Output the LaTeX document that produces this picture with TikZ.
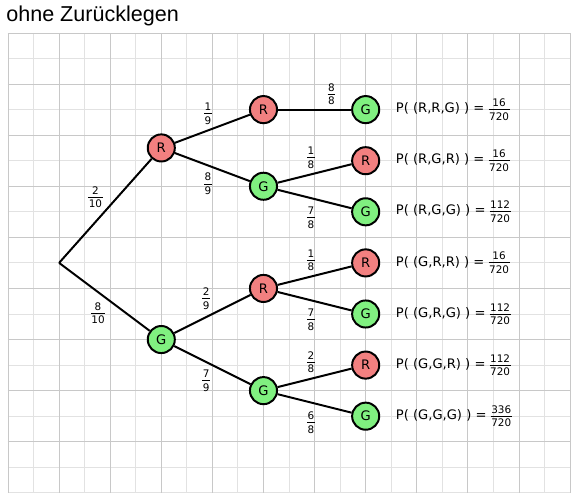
\documentclass[tikz,border=0pt]{standalone}
\usepackage{fontspec}
\setmainfont{DejaVu Sans}
\newfontfamily\titlefont{Liberation Sans}
\usepackage{tikz}
\usetikzlibrary{positioning}

\definecolor{redball}{RGB}{242,128,128}
\definecolor{greenball}{RGB}{128,240,128}
\definecolor{gridminor}{RGB}{226,226,226}
\definecolor{gridmajor}{RGB}{200,200,200}

\newcommand{\fsz}{\fontsize{5.8}{7}\selectfont}
% stacked fraction with a rule as wide as the wider part
\newcommand{\frc}[2]{$\vcenter{\hbox{\fsz\setbox0\hbox{#1}\setbox2\hbox{#2}%
  \dimen0=\ifdim\wd0>\wd2 \wd0\else\wd2\fi \advance\dimen0 by 0.6pt
  \vbox{\hbox to\dimen0{\hfil\box0\hfil}\kern1.4pt\hrule width\dimen0 height0.45pt\kern1.4pt\hbox to\dimen0{\hfil\box2\hfil}}}}$}
\newcommand{\prob}[2]{P( (#1) ) = \frc{#2}{720}}

\begin{document}
\begin{tikzpicture}[
    x=0.5cm, y=0.5cm,
    ball/.style={circle, draw, line width=1.1pt, minimum size=0.53cm, inner sep=0pt, font=\fontsize{7.3}{8}\selectfont},
    rball/.style={ball, fill=redball},
    gball/.style={ball, fill=greenball},
    conn/.style={line width=1.1pt},
    lbl/.style={inner sep=1pt},
    res/.style={inner sep=0pt, font=\fontsize{7.3}{8}\selectfont}
]
\fill[white] (-0.313,1.29) rectangle (22.35,-18.32);
\useasboundingbox (-0.313,1.29) rectangle (22.35,-18.32);
% grid
\draw[gridminor, line width=0.5pt] (0,-18) grid[step=0.5cm] (22,0);
\draw[gridmajor, line width=0.5pt] (0,-18) grid[step=1cm] (22,0);
\node[anchor=base west, inner sep=0pt, font=\titlefont\fontsize{12}{14}\selectfont] (title) at (-0.08,0.44) {ohne Zur\"ucklegen};

\coordinate (root) at (2,-9);
\node[rball] (r) at (6,-4.5) {R};
\node[gball] (g) at (6,-12) {G};
\node[rball] (rr) at (10,-3) {R};
\node[gball] (rg) at (10,-6) {G};
\node[rball] (gr) at (10,-10) {R};
\node[gball] (gg) at (10,-14) {G};
\node[gball] (rrg) at (14,-3) {G};
\node[rball] (rgr) at (14,-5) {R};
\node[gball] (rgg) at (14,-7) {G};
\node[rball] (grr) at (14,-9) {R};
\node[gball] (grg) at (14,-11) {G};
\node[rball] (ggr) at (14,-13) {R};
\node[gball] (ggg) at (14,-15) {G};

\node[res, right=0.3cm of rrg] (prrg) {\prob{R,R,G}{16}};
\node[res, right=0.3cm of rgr] (prgr) {\prob{R,G,R}{16}};
\node[res, right=0.3cm of rgg] (prgg) {\prob{R,G,G}{112}};
\node[res, right=0.3cm of grr] (pgrr) {\prob{G,R,R}{16}};
\node[res, right=0.3cm of grg] (pgrg) {\prob{G,R,G}{112}};
\node[res, right=0.3cm of ggr] (pggr) {\prob{G,G,R}{112}};
\node[res, right=0.3cm of ggg] (pggg) {\prob{G,G,G}{336}};

\draw[conn] (root) -- node[lbl, above left, pos=0.5] {\frc{2}{10}} (r);
\draw[conn] (root) -- node[lbl, below left, pos=0.54] {\frc{8}{10}} (g);
\draw[conn] (r) -- node[lbl, above=1.7pt, pos=0.44] {\frc{1}{9}} (rr);
\draw[conn] (r) -- node[lbl, below=2.8pt, pos=0.44] {\frc{8}{9}} (rg);
\draw[conn] (g) -- node[lbl, above=2.8pt, pos=0.42] {\frc{2}{9}} (gr);
\draw[conn] (g) -- node[lbl, below=3pt, pos=0.42] {\frc{7}{9}} (gg);
\draw[conn] (rr) -- node[lbl, above=1pt, pos=0.73] {\frc{8}{8}} (rrg);
\draw[conn] (rg) -- node[lbl, above=1.7pt, pos=0.45] {\frc{1}{8}} (rgr);
\draw[conn] (rg) -- node[lbl, below=3.5pt, pos=0.45] {\frc{7}{8}} (rgg);
\draw[conn] (gr) -- node[lbl, above=1.7pt, pos=0.45] {\frc{1}{8}} (grr);
\draw[conn] (gr) -- node[lbl, below=3.5pt, pos=0.45] {\frc{7}{8}} (grg);
\draw[conn] (gg) -- node[lbl, above=1.7pt, pos=0.45] {\frc{2}{8}} (ggr);
\draw[conn] (gg) -- node[lbl, below=3.5pt, pos=0.45] {\frc{6}{8}} (ggg);
\end{tikzpicture}
\end{document}
